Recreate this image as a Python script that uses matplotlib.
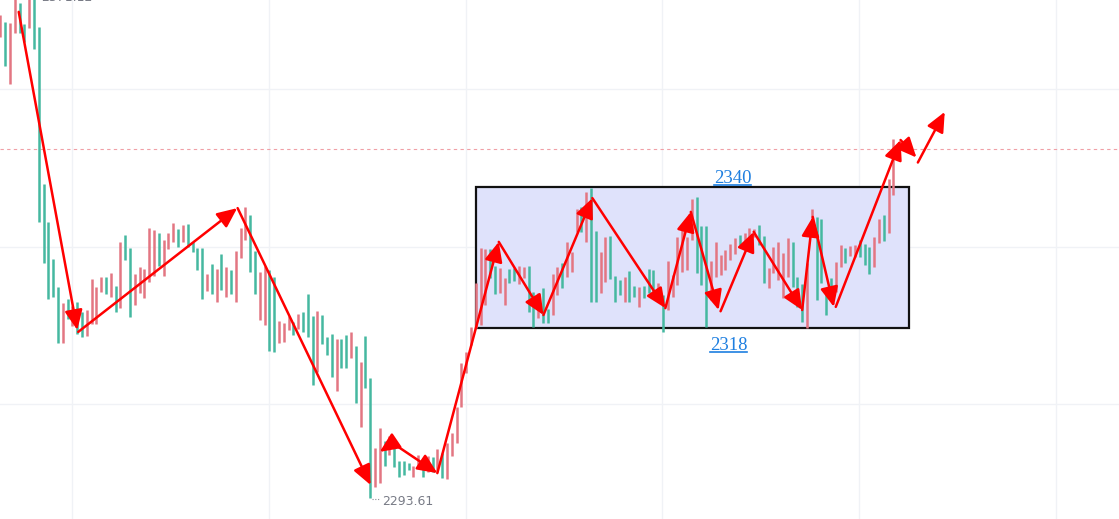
"""
Range-bar chart with hand-drawn swing arrows and a consolidation box
"""

import matplotlib
matplotlib.use("Agg")
import matplotlib.pyplot as plt
from matplotlib.patches import FancyArrowPatch, Rectangle, ArrowStyle
from matplotlib.lines import Line2D

# ===== Bar data (high / low per bar, u = teal, d = pink) =====
highs = [
    2367.6, 2366.5, 2366.3, 2371.3, 2369.5, 2366.2, 2370.8, 2370.8, 2365.7, 2340.6,
    2334.5, 2328.6, 2324.1, 2321.5, 2322.2, 2321.0, 2321.7, 2320.1, 2320.4, 2325.4,
    2324.1, 2325.7, 2325.7, 2326.3, 2324.2, 2331.3, 2332.4, 2330.3, 2326.2, 2327.3,
    2327.0, 2333.5, 2333.2, 2332.7, 2331.6, 2332.7, 2334.3, 2333.4, 2334.0, 2334.2,
    2331.3, 2330.3, 2330.3, 2326.2, 2327.8, 2327.0, 2329.4, 2327.3, 2326.8, 2329.8,
    2333.5, 2336.9, 2335.6, 2329.8, 2326.5, 2327.4, 2326.8, 2325.7, 2318.6, 2318.3,
    2319.4, 2318.5, 2319.8, 2320.1, 2323.0, 2319.4, 2320.2, 2319.6, 2316.1, 2316.6,
    2315.8, 2315.8, 2316.4, 2316.9, 2314.6, 2312.1, 2316.2, 2309.5, 2298.3, 2301.5,
    2299.4, 2300.2, 2299.3, 2296.2, 2296.2, 2295.9, 2295.4, 2297.2, 2296.7, 2297.0,
    2296.9, 2298.2, 2297.5, 2299.1, 2300.7, 2304.9, 2311.9, 2313.7, 2317.7, 2324.7,
    2330.3, 2330.2, 2330.2, 2327.4, 2327.1, 2325.5, 2327.0, 2327.1, 2327.4, 2327.3,
    2327.4, 2323.3, 2323.1, 2323.9, 2320.6, 2326.2, 2327.3, 2327.9, 2331.3, 2329.7,
    2336.6, 2336.9, 2339.3, 2339.9, 2333.0, 2329.7, 2332.1, 2332.2, 2325.8, 2325.2,
    2325.7, 2326.6, 2324.2, 2324.1, 2324.2, 2327.0, 2326.8, 2324.7, 2322.8, 2328.2,
    2326.0, 2332.1, 2333.7, 2332.1, 2338.2, 2338.5, 2333.8, 2333.8, 2328.2, 2331.3,
    2329.2, 2330.0, 2331.0, 2331.9, 2332.4, 2332.7, 2333.5, 2333.4, 2334.0, 2332.2,
    2327.1, 2330.5, 2331.3, 2329.5, 2331.9, 2331.3, 2325.7, 2324.6, 2327.9, 2336.6,
    2335.3, 2335.0, 2323.9, 2325.5, 2328.1, 2330.8, 2330.3, 2330.6, 2330.8, 2331.6,
    2331.0, 2330.5, 2332.1, 2335.0, 2335.6, 2341.4, 2347.8,
]
lows = [
    2364.1, 2359.4, 2356.6, 2364.7, 2364.7, 2363.3, 2365.5, 2362.2, 2334.5, 2327.9,
    2322.2, 2322.5, 2315.1, 2315.1, 2319.0, 2317.8, 2316.6, 2316.1, 2316.2, 2318.2,
    2318.2, 2323.3, 2323.0, 2322.5, 2320.1, 2320.7, 2328.4, 2319.3, 2321.2, 2323.1,
    2322.3, 2324.9, 2325.8, 2327.4, 2325.8, 2330.2, 2331.3, 2330.5, 2331.3, 2330.5,
    2329.7, 2326.8, 2322.2, 2323.4, 2323.0, 2321.7, 2323.6, 2322.5, 2323.0, 2321.7,
    2328.7, 2331.6, 2326.5, 2323.0, 2318.8, 2318.0, 2313.8, 2313.7, 2315.1, 2315.3,
    2317.2, 2316.4, 2317.4, 2316.9, 2316.1, 2308.4, 2310.5, 2315.0, 2313.2, 2309.7,
    2307.4, 2311.1, 2311.1, 2312.7, 2305.5, 2301.7, 2307.9, 2290.3, 2292.1, 2292.7,
    2295.4, 2297.2, 2295.3, 2293.7, 2294.0, 2294.8, 2293.7, 2295.3, 2293.7, 2294.5,
    2294.5, 2294.5, 2293.5, 2293.4, 2297.0, 2299.1, 2304.9, 2310.3, 2314.8, 2317.5,
    2318.0, 2321.2, 2325.5, 2323.0, 2323.1, 2321.2, 2324.7, 2325.0, 2324.6, 2325.5,
    2320.1, 2317.7, 2319.1, 2318.3, 2318.3, 2319.6, 2322.8, 2323.9, 2325.7, 2326.5,
    2332.9, 2332.9, 2331.3, 2321.7, 2321.7, 2323.1, 2324.9, 2325.4, 2321.7, 2322.8,
    2321.7, 2321.7, 2322.5, 2320.9, 2322.3, 2323.1, 2322.8, 2321.7, 2316.9, 2320.4,
    2322.5, 2324.4, 2326.5, 2326.8, 2331.6, 2326.3, 2324.4, 2317.7, 2322.0, 2325.7,
    2326.0, 2326.8, 2328.4, 2329.4, 2330.8, 2331.3, 2331.0, 2332.1, 2330.8, 2324.7,
    2323.9, 2326.3, 2325.2, 2322.3, 2325.7, 2324.1, 2320.9, 2318.5, 2317.5, 2333.0,
    2322.0, 2324.7, 2319.6, 2322.5, 2323.3, 2327.3, 2327.9, 2329.0, 2328.9, 2328.9,
    2327.6, 2326.2, 2327.3, 2331.1, 2331.4, 2332.7, 2338.8,
]
directions = (
    "dudduuduuu"
    "uuududuudd"
    "ddududuudd"
    "dddudddudu"
    "uuudududud"
    "dduudduudd"
    "duduuuduuu"
    "duududuudd"
    "uduuuuddud"
    "ududdddddd"
    "dduudduudd"
    "uuduuddudd"
    "duduudduuu"
    "duuduuudud"
    "ddddduuudd"
    "dddduddduu"
    "ddddduuudd"
    "uuuudduddu"
    "uuddudd"
)

# ===== Annotations (bar index, price) =====
arrow_tails = [
    (3.8, 2368.1), (16.2, 2316.9), (49.4, 2336.7), (81.7, 2299.1), (81.7, 2299.1),
    (91.0, 2294.3), (103.8, 2331.3), (113.1, 2319.6), (123.3, 2338.3), (138.5, 2320.7),
    (143.8, 2336.1), (150.0, 2320.2), (156.9, 2332.9), (167.0, 2320.4), (169.2, 2335.3),
    (174.0, 2320.9), (187.5, 2347.6), (191.1, 2344.0),
]
arrow_heads = [
    (16.0, 2317.2), (49.3, 2336.7), (77.1, 2292.4), (79.0, 2297.7), (91.0, 2294.3),
    (103.8, 2331.3), (113.1, 2319.6), (123.3, 2338.3), (138.5, 2320.7), (143.8, 2336.1),
    (149.6, 2320.4), (156.9, 2332.9), (167.0, 2320.4), (169.2, 2335.3), (173.6, 2320.9),
    (187.5, 2347.6), (190.8, 2344.8), (196.7, 2352.1),
]
box_start, box_end = 99.0, 189.2
box_low, box_high = 2317.5, 2340.0
box_labels = ["2340", "2318"]
box_label_pos = [(152.5, 2340.7), (151.7, 2314.0)]
low_label = "2293.61"
high_label = "2371.12"
last_price = 2346.2
grid_prices = [2305.4, 2330.5, 2355.8]
grid_bars = [14.9, 55.9, 96.9, 137.9, 178.9, 219.9]

TEAL = "#45b8a0"
PINK = "#e37682"


def main():
    fig = plt.figure(figsize=(11.19, 5.19), dpi=100)
    ax = fig.add_axes([0, 0, 1, 1])
    ax.set_xlim(-0.1, 233.0)
    ax.set_ylim(2286.96, 2370.0)
    ax.axis("off")

    # grid
    for p in grid_prices:
        ax.axhline(p, color="#f0f2f6", lw=1.0, zorder=0)
    for b in grid_bars:
        ax.axvline(b, color="#f0f2f6", lw=1.0, zorder=0)

    # consolidation box
    ax.add_patch(Rectangle((box_start, box_low), box_end - box_start, box_high - box_low,
                           facecolor="#dfe2fb", edgecolor="#111111", lw=1.6, zorder=1))

    # bars
    xs = list(range(len(highs)))
    cols = [TEAL if d == "u" else PINK for d in directions]
    ax.vlines(xs, lows, highs, colors=cols, linewidth=1.8, zorder=2)

    # last price line
    ax.axhline(last_price, color="#f0a0a6", lw=0.8, ls=(0, (3, 3)), zorder=1)

    # swing arrows
    style = ArrowStyle("-|>", head_length=1.0, head_width=0.45)
    for tail, head in zip(arrow_tails, arrow_heads):
        ax.add_patch(FancyArrowPatch(tail, head, arrowstyle=style, mutation_scale=12,
                                     color="#ff0000", lw=1.8, shrinkA=0, shrinkB=0,
                                     zorder=4))

    # box labels (blue, underlined)
    texts = []
    for lab, (bx, by) in zip(box_labels, box_label_pos):
        t = ax.text(bx, by, lab, color="#1e7fe0", fontsize=13.5, family="Liberation Serif",
                    ha="center", va="baseline", zorder=5)
        texts.append(t)

    # low / high markers
    low_idx = lows.index(min(lows))
    ax.plot([low_idx + 0.3, low_idx + 2.1], [min(lows) - 0.1] * 2, color="#8a8d96",
            lw=0.8, ls=(0, (1, 1.5)), zorder=3)
    ax.text(low_idx + 2.5, min(lows) - 0.55, low_label, color="#787b86", fontsize=9,
            ha="left", va="center", zorder=5)
    ax.text(8.4, 2369.9, high_label, color="#787b86", fontsize=9,
            ha="left", va="baseline", zorder=5)

    # underline the blue labels
    fig.canvas.draw()
    renderer = fig.canvas.get_renderer()
    W, H = fig.bbox.width, fig.bbox.height
    for t in texts:
        bb = t.get_window_extent(renderer)
        yline = (bb.y0 + 2.5) / H
        fig.add_artist(Line2D([bb.x0 / W, bb.x1 / W], [yline, yline],
                              color="#1e7fe0", lw=1.2))

    fig.savefig("out.png", dpi=100)
    plt.close(fig)


if __name__ == "__main__":
    main()
